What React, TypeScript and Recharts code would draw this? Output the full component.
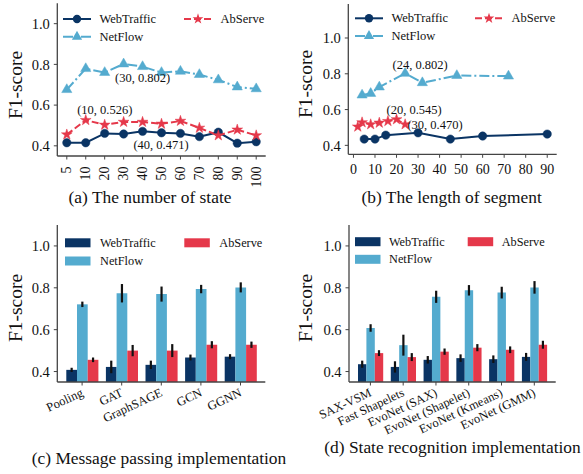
import React from 'react';
import {
  Bar, BarChart, ErrorBar, Line, LineChart, ReferenceDot, Symbols, XAxis, YAxis,
} from 'recharts';

// palette
const NAVY = '#0a3464';
const SKY = '#54abcf';
const RED = '#e5384a';
const FRAME = '#444';
const FONT = '"Liberation Serif", "DejaVu Serif", serif';

// (a) number of states
const states = ['5', '10', '20', '30', '40', '50', '60', '70', '80', '90', '100'];
const webState = [0.415, 0.415, 0.461, 0.458, 0.471, 0.464, 0.461, 0.445, 0.467, 0.413, 0.42];
const netState = [0.676, 0.779, 0.76, 0.802, 0.789, 0.76, 0.766, 0.75, 0.724, 0.689, 0.68];
const abState = [0.455, 0.526, 0.503, 0.517, 0.517, 0.508, 0.522, 0.488, 0.451, 0.479, 0.451];

// (b) segment length
const webSegX = [5, 10, 15, 30, 45, 60, 90];
const webSegY = [0.435, 0.435, 0.457, 0.47, 0.435, 0.452, 0.463];
const netSegX = [4, 8, 12, 24, 32, 48, 72];
const netSegY = [0.681, 0.69, 0.726, 0.802, 0.75, 0.79, 0.787];
const abSegX = [2, 4, 8, 12, 16, 20, 24];
const abSegY = [0.504, 0.528, 0.517, 0.526, 0.535, 0.545, 0.517];
const segTicks = [0, 10, 20, 30, 40, 50, 60, 70, 80, 90];

// (c) message passing
const mpCats = ['Pooling', 'GAT', 'GraphSAGE', 'GCN', 'GGNN'];
const webMp = [0.408, 0.422, 0.432, 0.467, 0.471];
const webMpErr = [0.01, 0.03, 0.02, 0.014, 0.012];
const netMp = [0.721, 0.774, 0.77, 0.794, 0.802];
const netMpErr = [0.013, 0.044, 0.036, 0.02, 0.024];
const abMp = [0.456, 0.5, 0.5, 0.528, 0.528];
const abMpErr = [0.011, 0.027, 0.031, 0.017, 0.015];

// (d) state recognition
const srCats = ['SAX-VSM', 'Fast Shapelets', 'EvoNet (SAX)', 'EvoNet (Shapelet)', 'EvoNet (Kmeans)', 'EvoNet (GMM)'];
const webSr = [0.435, 0.422, 0.456, 0.464, 0.459, 0.47];
const webSrErr = [0.017, 0.027, 0.018, 0.018, 0.018, 0.019];
const netSr = [0.608, 0.526, 0.757, 0.788, 0.777, 0.802];
const netSrErr = [0.018, 0.05, 0.029, 0.025, 0.028, 0.03];
const abSr = [0.488, 0.469, 0.495, 0.514, 0.504, 0.528];
const abSrErr = [0.014, 0.019, 0.015, 0.017, 0.016, 0.019];

const yTicks = [0.4, 0.6, 0.8, 1.0];

const stateData = states.map((s, i) => ({ state: s, web: webState[i], net: netState[i], ab: abState[i] }));
const toPts = (xs: number[], ys: number[]) => xs.map((x, i) => ({ x, y: ys[i] }));
const barRows = (cats: string[], w: number[], we: number[], n: number[], ne: number[], a: number[], ae: number[]) =>
  cats.map((c, i) => ({ name: c, web: w[i], webErr: we[i], net: n[i], netErr: ne[i], ab: a[i], abErr: ae[i] }));
const mpData = barRows(mpCats, webMp, webMpErr, netMp, netMpErr, abMp, abMpErr);
const srData = barRows(srCats, webSr, webSrErr, netSr, netSrErr, abSr, abSrErr);

const marker = (type: any, size: number, color: string) => (p: any) => (
  <Symbols key={`m-${p.index}`} cx={p.cx} cy={p.cy} type={type} size={size} fill={color} stroke={color} strokeWidth={0.5} />
);

const NET_DASH = '10 3 2 3';
const AB_DASH = '7 3';

const note = (text: string, dx: number, dy: number) => (p: any) => (
  <text x={p.cx + dx} y={p.cy + dy} textAnchor="middle" dominantBaseline="central" fontSize={12.5} fill="#111">
    {text}
  </text>
);

const yAxisProps = {
  type: 'number' as const,
  ticks: yTicks,
  tickFormatter: (v: number) => v.toFixed(1),
  allowDataOverflow: true,
  tick: { fontSize: 14.5, fill: '#111' },
  tickSize: 3.5,
  tickMargin: 4,
  axisLine: { stroke: FRAME, strokeWidth: 1.3 },
  tickLine: { stroke: FRAME },
};

const FrameAxes = () => null;

const VertTick = (p: any) => (
  <text x={p.x} y={p.y + 5} transform={`rotate(-90, ${p.x}, ${p.y + 5})`} textAnchor="end" dominantBaseline="central" fontSize={14} fill="#111">
    {p.payload.value}
  </text>
);

const SlantTick = (p: any) => (
  <text x={p.x + 2} y={p.y + 8} transform={`rotate(-25, ${p.x + 2}, ${p.y + 8})`} textAnchor="end" fontSize={12.5} fill="#111">
    {p.payload.value}
  </text>
);

const frameTop = (
  <XAxis xAxisId="top" orientation="top" type="number" domain={[0, 1]} height={0} tick={false} tickLine={false} axisLine={{ stroke: FRAME, strokeWidth: 1.3 }} />
);
const frameRight = (
  <YAxis yAxisId="right" orientation="right" type="number" domain={[0, 1]} width={0} tick={false} tickLine={false} axisLine={{ stroke: FRAME, strokeWidth: 1.3 }} />
);

function StateChart() {
  return (
    <LineChart width={290} height={200} data={stateData} margin={{ top: 3.3, right: 24.3, left: 0, bottom: 0 }}>
      <XAxis dataKey="state" type="category" scale="point" padding={{ left: 9.5, right: 9.5 }} height={44}
        tick={<VertTick />} tickSize={3.5} tickMargin={2} interval={0}
        axisLine={{ stroke: FRAME, strokeWidth: 1.3 }} tickLine={{ stroke: FRAME }} />
      <YAxis {...yAxisProps} width={57.3} domain={[0.35, 1.1]} />
      {frameTop}
      {frameRight}
      <Line dataKey="web" stroke={NAVY} strokeWidth={2} dot={marker('circle', 55, NAVY)} activeDot={false} isAnimationActive={false} />
      <Line dataKey="net" stroke={SKY} strokeWidth={2} strokeDasharray={NET_DASH} dot={marker('triangle', 45, SKY)} activeDot={false} isAnimationActive={false} />
      <Line dataKey="ab" stroke={RED} strokeWidth={2} strokeDasharray={AB_DASH} dot={marker('star', 36, RED)} activeDot={false} isAnimationActive={false} />
      <ReferenceDot x={states[3]} y={netState[3]} r={0} shape={note(`(${states[3]}, ${netState[3].toFixed(3)})`, 19, 14)} />
      <ReferenceDot x={states[1]} y={abState[1]} r={0} shape={note(`(${states[1]}, ${abState[1].toFixed(3)})`, 19, -10)} />
      <ReferenceDot x={states[4]} y={webState[4]} r={0} shape={note(`(${states[4]}, ${webState[4].toFixed(3)})`, 18.5, 14)} />
    </LineChart>
  );
}

function SegmentChart() {
  return (
    <LineChart width={293} height={200} margin={{ top: 4, right: 26.3, left: 0, bottom: 0 }}>
      <XAxis dataKey="x" type="number" domain={[-2.4, 94.4]} ticks={segTicks} allowDataOverflow height={45.7}
        tick={{ fontSize: 14, fill: '#111' }} tickSize={3.5} tickMargin={6}
        axisLine={{ stroke: FRAME, strokeWidth: 1.3 }} tickLine={{ stroke: FRAME }} />
      <YAxis {...yAxisProps} dataKey="y" width={58.3} domain={[0.35, 1.19]} />
      {frameTop}
      {frameRight}
      <Line data={toPts(webSegX, webSegY)} dataKey="y" stroke={NAVY} strokeWidth={2} dot={marker('circle', 55, NAVY)} activeDot={false} isAnimationActive={false} />
      <Line data={toPts(netSegX, netSegY)} dataKey="y" stroke={SKY} strokeWidth={2} strokeDasharray={NET_DASH} dot={marker('triangle', 45, SKY)} activeDot={false} isAnimationActive={false} />
      <Line data={toPts(abSegX, abSegY)} dataKey="y" stroke={RED} strokeWidth={2} strokeDasharray={AB_DASH} dot={marker('star', 36, RED)} activeDot={false} isAnimationActive={false} />
      <ReferenceDot x={netSegX[3]} y={netSegY[3]} r={0} shape={note(`(${netSegX[3]}, ${netSegY[3].toFixed(3)})`, 15, -8.5)} />
      <ReferenceDot x={abSegX[5]} y={abSegY[5]} r={0} shape={note(`(${abSegX[5]}, ${abSegY[5].toFixed(3)})`, 17.6, -9.4)} />
      <ReferenceDot x={webSegX[3]} y={webSegY[3]} r={0} shape={note(`(${webSegX[3]}, ${webSegY[3].toFixed(3)})`, 17, -7.5)} />
    </LineChart>
  );
}

function GroupedBars({ data, width, left, right, barSize }: { data: any[]; width: number; left: number; right: number; barSize: number }) {
  return (
    <BarChart width={width} height={230} data={data} margin={{ top: 5, right, left: 0, bottom: 0 }} barGap={0} barSize={barSize}>
      <XAxis dataKey="name" type="category" padding={{ left: 5, right: 5 }} height={68} interval={0}
        tick={<SlantTick />} tickSize={3.5} tickMargin={2}
        axisLine={{ stroke: FRAME, strokeWidth: 1.3 }} tickLine={{ stroke: FRAME }} />
      <YAxis {...yAxisProps} width={left} domain={[0.35, 1.1]} />
      {frameTop}
      {frameRight}
      <Bar dataKey="web" fill={NAVY} isAnimationActive={false}>
        <ErrorBar dataKey="webErr" width={0} strokeWidth={2.2} stroke="#111" />
      </Bar>
      <Bar dataKey="net" fill={SKY} isAnimationActive={false}>
        <ErrorBar dataKey="netErr" width={0} strokeWidth={2.2} stroke="#111" />
      </Bar>
      <Bar dataKey="ab" fill={RED} isAnimationActive={false}>
        <ErrorBar dataKey="abErr" width={0} strokeWidth={2.2} stroke="#111" />
      </Bar>
    </BarChart>
  );
}

type Entry = { label: string; color: string; dash?: string; symbol?: any; size?: number };
const series: Entry[] = [
  { label: 'WebTraffic', color: NAVY, symbol: 'circle', size: 55 },
  { label: 'NetFlow', color: SKY, dash: NET_DASH, symbol: 'triangle', size: 45 },
  { label: 'AbServe', color: RED, dash: AB_DASH, symbol: 'star', size: 36 },
];

function LineLegend({ x1, x2, y1, y2 }: { x1: number; x2: number; y1: number; y2: number }) {
  const pos = [[x1, y1], [x1, y2], [x2, y1]];
  return (
    <g>
      {series.map((s, i) => {
        const [x, y] = pos[i];
        return (
          <g key={s.label}>
            <line x1={x} x2={x + 28} y1={y} y2={y} stroke={s.color} strokeWidth={2} strokeDasharray={s.dash} />
            <Symbols cx={x + 14} cy={y} type={s.symbol} size={s.size} fill={s.color} />
            <text x={x + 36.5} y={y} dominantBaseline="central" fontSize={12.5} fill="#111">{s.label}</text>
          </g>
        );
      })}
    </g>
  );
}

function PatchLegend({ x1, x2, y1, y2, gap }: { x1: number; x2: number; y1: number; y2: number; gap: number }) {
  const pos = [[x1, y1], [x1, y2], [x2, y1]];
  return (
    <g>
      {series.map((s, i) => {
        const [x, y] = pos[i];
        return (
          <g key={s.label}>
            <rect x={x} y={y - 4.5} width={25.5} height={9} fill={s.color} />
            <text x={x + gap} y={y} dominantBaseline="central" fontSize={12.3} fill="#111">{s.label}</text>
          </g>
        );
      })}
    </g>
  );
}

const yLabel = (x: number, y: number) => (
  <text transform={`translate(${x},${y}) rotate(-90)`} textAnchor="middle" dominantBaseline="central" fontSize={19.5} fill="#111">F1-score</text>
);
const caption = (x: number, y: number, t: string) => (
  <text x={x} y={y} textAnchor="middle" dominantBaseline="central" fontSize={17.4} fill="#111">{t}</text>
);

export default function App() {
  return (
    <div style={{ position: 'fixed', left: 0, top: 0, width: 583, height: 474, background: '#fff', fontFamily: FONT }}>
      <div style={{ position: 'absolute', left: 0, top: 0 }}><StateChart /></div>
      <div style={{ position: 'absolute', left: 290, top: 0 }}><SegmentChart /></div>
      <div style={{ position: 'absolute', left: 0, top: 220 }}>
        <GroupedBars data={mpData} width={290} left={57.3} right={24.7} barSize={10.7} />
      </div>
      <div style={{ position: 'absolute', left: 290, top: 220 }}>
        <GroupedBars data={srData} width={293} left={59} right={27.3} barSize={8.4} />
      </div>
      <svg width={583} height={474} style={{ position: 'absolute', left: 0, top: 0, pointerEvents: 'none', fontFamily: FONT }}>
        <LineLegend x1={63} x2={184} y1={19} y2={36.7} />
        <LineLegend x1={355} x2={475} y1={18.3} y2={36} />
        <PatchLegend x1={65} x2={184.3} y1={242.8} y2={261} gap={35} />
        <PatchLegend x1={355} x2={467.7} y1={241.7} y2={259.3} gap={34} />
        {yLabel(15.8, 85)}
        {yLabel(305.8, 84)}
        {yLabel(15.8, 308)}
        {yLabel(305.8, 308)}
        {caption(150, 196.7, '(a) The number of state')}
        {caption(451.7, 196.7, '(b) The length of segment')}
        {caption(159, 458.3, '(c) Message passing implementation')}
        {caption(452.5, 446.7, '(d) State recognition implementation')}
      </svg>
    </div>
  );
}
